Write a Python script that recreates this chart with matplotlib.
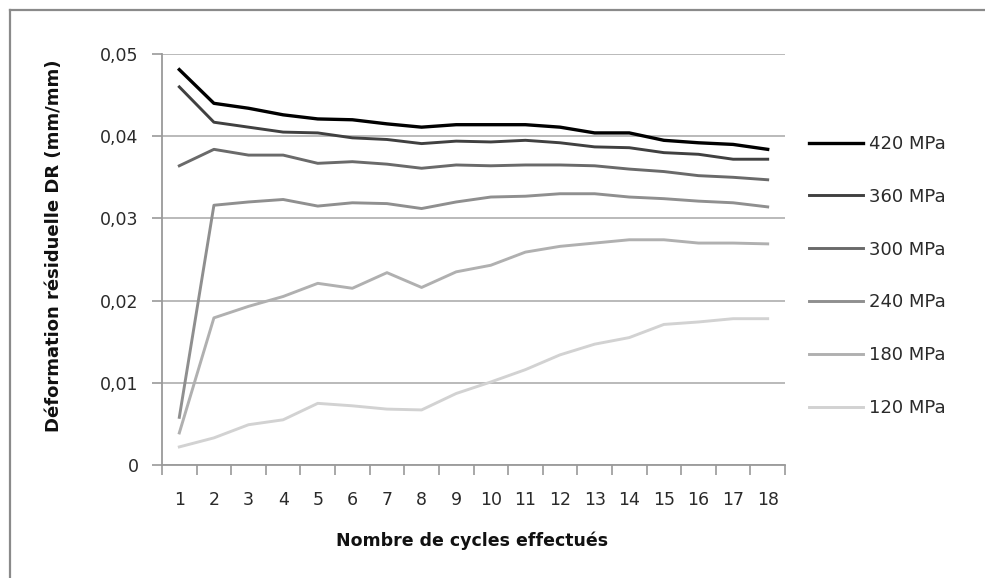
import matplotlib
matplotlib.use("Agg")
import matplotlib.pyplot as plt
from matplotlib.lines import Line2D
from matplotlib.ticker import FixedLocator, FuncFormatter

plt.rcParams['font.family'] = ['DejaVu Sans']

cycles = list(range(1, 19))
labels = ["420 MPa", "360 MPa", "300 MPa", "240 MPa", "180 MPa", "120 MPa"]
s420 = [0.0481, 0.0440, 0.0434, 0.0426, 0.0421, 0.0420, 0.0415, 0.0411, 0.0414,
        0.0414, 0.0414, 0.0411, 0.0404, 0.0404, 0.0395, 0.0392, 0.0390, 0.0384]
s360 = [0.0460, 0.0417, 0.0411, 0.0405, 0.0404, 0.0398, 0.0396, 0.0391, 0.0394,
        0.0393, 0.0395, 0.0392, 0.0387, 0.0386, 0.0380, 0.0378, 0.0372, 0.0372]
s300 = [0.0364, 0.0384, 0.0377, 0.0377, 0.0367, 0.0369, 0.0366, 0.0361, 0.0365,
        0.0364, 0.0365, 0.0365, 0.0364, 0.0360, 0.0357, 0.0352, 0.0350, 0.0347]
s240 = [0.0058, 0.0316, 0.0320, 0.0323, 0.0315, 0.0319, 0.0318, 0.0312, 0.0320,
        0.0326, 0.0327, 0.0330, 0.0330, 0.0326, 0.0324, 0.0321, 0.0319, 0.0314]
s180 = [0.0039, 0.0179, 0.0193, 0.0205, 0.0221, 0.0215, 0.0234, 0.0216, 0.0235,
        0.0243, 0.0259, 0.0266, 0.0270, 0.0274, 0.0274, 0.0270, 0.0270, 0.0269]
s120 = [0.0022, 0.0033, 0.0049, 0.0055, 0.0075, 0.0072, 0.0068, 0.0067, 0.0087,
        0.0101, 0.0116, 0.0134, 0.0147, 0.0155, 0.0171, 0.0174, 0.0178, 0.0178]
series = [s420, s360, s300, s240, s180, s120]
colors = ["#000000", "#404040", "#6a6a6a", "#8f8f8f", "#b0b0b0", "#d2d2d2"]
widths = [2.4, 2.1, 2.1, 2.1, 2.1, 2.1]
yticks = [0, 0.01, 0.02, 0.03, 0.04, 0.05]

W, H = 985, 578
fig = plt.figure(figsize=(W / 100, H / 100), dpi=100)
ax = fig.add_axes([162 / W, 1 - 465 / H, (785 - 162) / W, (465 - 54) / H])

for s, c, lw, lab in zip(series, colors, widths, labels):
    ax.plot(cycles, s, color=c, lw=lw, label=lab, solid_joinstyle='round')

ax.set_xlim(0.5, 18.5)
ax.set_ylim(0, 0.05)
ax.yaxis.set_major_locator(FixedLocator(yticks))
ax.yaxis.set_major_formatter(FuncFormatter(lambda v, p: "0" if v == 0 else f"{v:.2f}".replace(".", ",")))
ax.set_xticks(cycles)
ax.set_xticklabels([str(c) for c in cycles])
ax.xaxis.set_minor_locator(FixedLocator([c + 0.5 for c in [0] + cycles]))
ax.tick_params(axis='x', which='major', length=0, pad=19, labelsize=12.5, labelcolor='#2a2a2a')
ax.tick_params(axis='x', which='minor', length=7, width=1.2, color='#9a9a9a', direction='out')
ax.tick_params(axis='y', length=7, width=1.2, color='#9a9a9a', direction='out', pad=10,
               labelsize=12.5, labelcolor='#2a2a2a')
ax.grid(axis='y', color='#b4b4b4', lw=1.3)
ax.set_axisbelow(True)
for sp in ['top', 'right']:
    ax.spines[sp].set_visible(False)
for sp in ['left', 'bottom']:
    ax.spines[sp].set_color('#9a9a9a')
    ax.spines[sp].set_linewidth(1.3)

fig.text(54 / W, 1 - 246 / H, "Déformation résiduelle DR (mm/mm)", rotation=90,
         ha='center', va='center', fontsize=13, fontweight='bold', color='#111111')
fig.text(472 / W, 1 - 541 / H, "Nombre de cycles effectués",
         ha='center', va='center', fontsize=12.5, fontweight='bold', color='#111111')

handles = [Line2D([], [], color=c, lw=lw) for c, lw in zip(colors, widths)]
fig.legend(handles, labels, loc='center left', bbox_to_anchor=(809 / W, 1 - 276 / H),
           frameon=False, borderaxespad=0, borderpad=0, handlelength=3.0,
           handletextpad=0.35, labelspacing=1.93, fontsize=13, labelcolor='#2a2a2a')

# outer chart frame (only top and left edges visible)
fig.add_artist(Line2D([10 / W, 1], [1 - 10 / H, 1 - 10 / H], transform=fig.transFigure,
                      color='#8a8a8a', lw=1.6))
fig.add_artist(Line2D([10 / W, 10 / W], [0, 1 - 10 / H], transform=fig.transFigure,
                      color='#8a8a8a', lw=1.6))

fig.savefig("out.png", dpi=100)
